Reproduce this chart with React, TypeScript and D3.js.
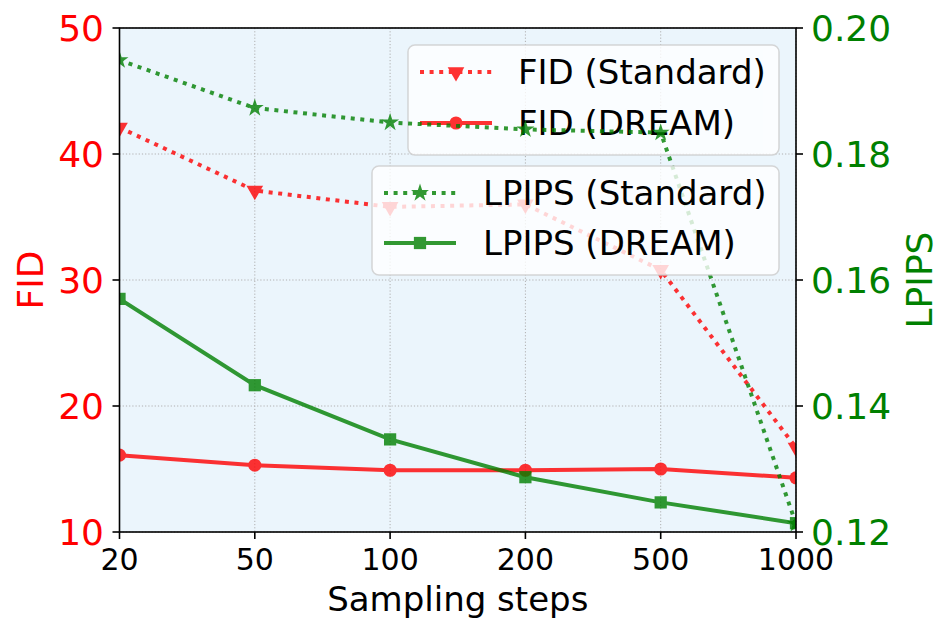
import React from "react";
import * as d3 from "d3";

const steps = ["20", "50", "100", "200", "500", "1000"];
const fidStandard = [42.1, 37.1, 35.8, 36.0, 30.8, 16.7];
const fidDream = [16.1, 15.3, 14.9, 14.9, 15.0, 14.3];
const lpipsStandard = [0.1949, 0.1873, 0.185, 0.1839, 0.1834, 0.1213];
const lpipsDream = [0.157, 0.1433, 0.1347, 0.1287, 0.1247, 0.1214];
const fidTicks = [10, 20, 30, 40, 50];
const lpipsTicks = [0.12, 0.14, 0.16, 0.18, 0.2];

const W = 952, H = 631;
const L = 119.5, R = 796, T = 28, B = 532;
const RED = "#ff0000", GREEN = "#008000";
const FONT = "DejaVu Sans, Verdana, sans-serif";
const DOT = "4 5.6";

export default function App() {
  const x = d3.scalePoint<string>().domain(steps).range([L, R]);
  const yF = d3.scaleLinear().domain([10, 50]).range([B, T]);
  const yL = d3.scaleLinear().domain([0.12, 0.2]).range([B, T]);

  const lineF = d3.line<number>().x((_, i) => x(steps[i])!).y(d => yF(d));
  const lineL = d3.line<number>().x((_, i) => x(steps[i])!).y(d => yL(d));

  const tri = d3.symbol(d3.symbolTriangle, 120)()!;
  const circ = d3.symbol(d3.symbolCircle, 135)()!;
  const sq = d3.symbol(d3.symbolSquare, 150)()!;
  const star = d3.symbol(d3.symbolStar, 100)()!;

  const triM = (cx: number, cy: number, k: number) => (
    <path key={k} d={tri} transform={`translate(${cx},${cy}) rotate(180)`} fill={RED} />
  );
  const circM = (cx: number, cy: number, k: number) => (
    <path key={k} d={circ} transform={`translate(${cx},${cy})`} fill={RED} />
  );
  const sqM = (cx: number, cy: number, k: number) => (
    <path key={k} d={sq} transform={`translate(${cx},${cy})`} fill={GREEN} />
  );
  const starM = (cx: number, cy: number, k: number) => (
    <path key={k} d={star} transform={`translate(${cx},${cy})`} fill={GREEN} />
  );

  const legendText = (tx: number, ty: number, s: string) => (
    <text x={tx} y={ty} fontSize={34} fill="#000" fontFamily={FONT}>{s}</text>
  );

  return (
    <svg width={W} height={H} style={{ position: "absolute", left: 0, top: 0, background: "#fff" }}>
      <defs>
        <clipPath id="plot">
          <rect x={L} y={T} width={R - L} height={B - T} />
        </clipPath>
      </defs>
      <rect x={L} y={T} width={R - L} height={B - T} fill="#ebf5fc" />
      {/* grid */}
      <g stroke="#b0b0b0" strokeWidth={1} strokeDasharray="1.2 2">
        {steps.map(s => (
          <line key={s} x1={x(s)} x2={x(s)} y1={T} y2={B} />
        ))}
        {fidTicks.map(t => (
          <line key={t} x1={L} x2={R} y1={yF(t)} y2={yF(t)} />
        ))}
      </g>
      {/* FID series */}
      <g clipPath="url(#plot)" opacity={0.8}>
        <path d={lineF(fidStandard)!} fill="none" stroke={RED} strokeWidth={4} strokeDasharray={DOT} />
        {fidStandard.map((v, i) => triM(x(steps[i])!, yF(v), i))}
      </g>
      <g clipPath="url(#plot)" opacity={0.8}>
        <path d={lineF(fidDream)!} fill="none" stroke={RED} strokeWidth={4} />
        {fidDream.map((v, i) => circM(x(steps[i])!, yF(v), i))}
      </g>
      {/* legend 1 */}
      <g>
        <rect x={408} y={45} width={371} height={110} rx={7} fill="#ffffff" fillOpacity={0.8} stroke="#cccccc" strokeOpacity={0.8} strokeWidth={1.5} />
        <g opacity={0.8}>
          <line x1={420} x2={492} y1={72} y2={72} stroke={RED} strokeWidth={4} strokeDasharray={DOT} />
          {triM(456, 72, 0)}
        </g>
        {legendText(518, 84, "FID (Standard)")}
        <g opacity={0.8}>
          <line x1={420} x2={492} y1={123} y2={123} stroke={RED} strokeWidth={4} />
          {circM(456, 123, 0)}
        </g>
        {legendText(518, 135, "FID (DREAM)")}
      </g>
      {/* LPIPS series */}
      <g clipPath="url(#plot)" opacity={0.8}>
        <path d={lineL(lpipsStandard)!} fill="none" stroke={GREEN} strokeWidth={4} strokeDasharray={DOT} />
        {lpipsStandard.map((v, i) => starM(x(steps[i])!, yL(v), i))}
      </g>
      <g clipPath="url(#plot)" opacity={0.8}>
        <path d={lineL(lpipsDream)!} fill="none" stroke={GREEN} strokeWidth={4} />
        {lpipsDream.map((v, i) => sqM(x(steps[i])!, yL(v), i))}
      </g>
      {/* legend 2 */}
      <g>
        <rect x={372} y={166} width={407} height={109} rx={7} fill="#ffffff" fillOpacity={0.8} stroke="#cccccc" strokeOpacity={0.8} strokeWidth={1.5} />
        <g opacity={0.8}>
          <line x1={384} x2={456} y1={193} y2={193} stroke={GREEN} strokeWidth={4} strokeDasharray={DOT} />
          {starM(420, 193, 0)}
        </g>
        {legendText(483, 205, "LPIPS (Standard)")}
        <g opacity={0.8}>
          <line x1={384} x2={456} y1={243} y2={243} stroke={GREEN} strokeWidth={4} />
          {sqM(420, 243, 0)}
        </g>
        {legendText(483, 255, "LPIPS (DREAM)")}
      </g>
      {/* spines */}
      <rect x={L} y={T} width={R - L} height={B - T} fill="none" stroke="#000" strokeWidth={1.6} />
      {/* left ticks */}
      {fidTicks.map(t => (
        <g key={t}>
          <line x1={L - 7} x2={L} y1={yF(t)} y2={yF(t)} stroke="#000" strokeWidth={1.6} />
          <text x={104} y={yF(t)} dy="0.36em" textAnchor="end" fontSize={36} fill={RED} fontFamily={FONT}>{t}</text>
        </g>
      ))}
      {/* right ticks */}
      {lpipsTicks.map(t => (
        <g key={t}>
          <line x1={R} x2={R + 7} y1={yL(t)} y2={yL(t)} stroke="#000" strokeWidth={1.6} />
          <text x={811} y={yL(t)} dy="0.36em" textAnchor="start" fontSize={36} fill={GREEN} fontFamily={FONT}>{t.toFixed(2)}</text>
        </g>
      ))}
      {/* bottom ticks */}
      {steps.map(s => (
        <g key={s}>
          <line x1={x(s)} x2={x(s)} y1={B} y2={B + 7} stroke="#000" strokeWidth={1.6} />
          <text x={x(s)} y={570} textAnchor="middle" fontSize={30} fill="#000" fontFamily={FONT}>{s}</text>
        </g>
      ))}
      <text x={(L + R) / 2} y={611} textAnchor="middle" fontSize={34} fill="#000" fontFamily={FONT}>Sampling steps</text>
      <text transform={`translate(43,280) rotate(-90)`} textAnchor="middle" fontSize={36} fill={RED} fontFamily={FONT}>FID</text>
      <text transform={`translate(932,280) rotate(-90)`} textAnchor="middle" fontSize={36} fill={GREEN} fontFamily={FONT}>LPIPS</text>
    </svg>
  );
}
